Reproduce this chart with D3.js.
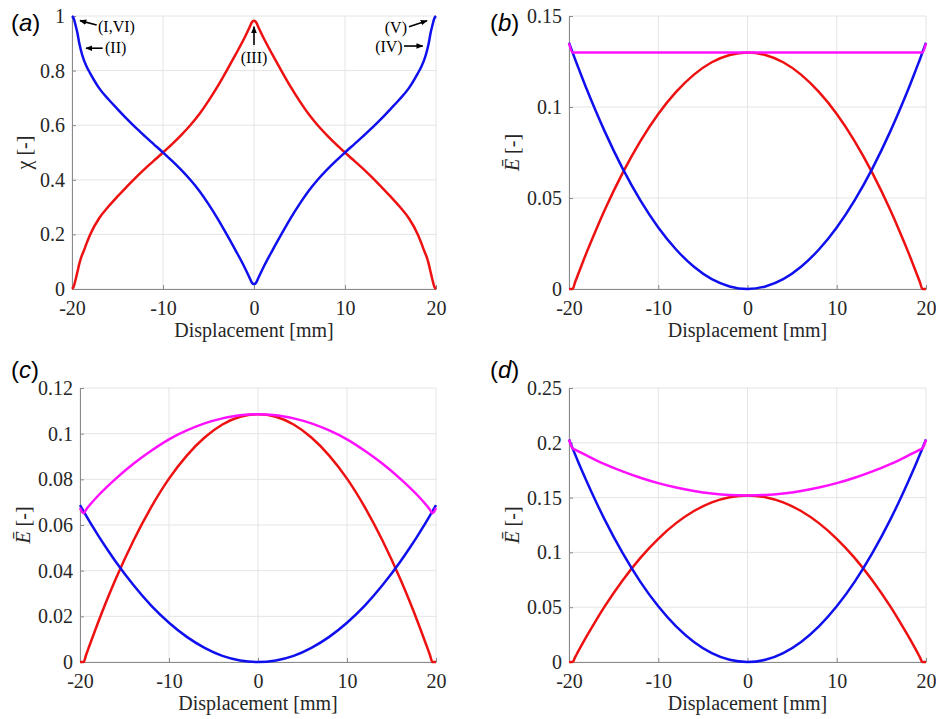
<!DOCTYPE html>
<html>
<head>
<meta charset="utf-8">
<script src="https://cdn.jsdelivr.net/npm/d3@7"></script>
<style>
  body { margin: 0; background: #fff; }
  text { font-family: "Liberation Serif", "Times New Roman", serif; }
</style>
</head>
<body>
<svg id="fig" width="936" height="719"></svg>
<script>
// ---- data ----
// (a) volume fraction chi vs displacement
let xA = [-20,-19.8,-19.6,-19.4,-19.2,-19,-18.7,-18.4,-18,-17,-16,-15,-14,-13,-12,-11,-10,-9,-8,-7,-6,-5,-4,-3,-2,-1,-0.5,-0.25,0,
          0.25,0.5,1,2,3,4,5,6,7,8,9,10,11,12,13,14,15,16,17,18,18.4,18.7,19,19.2,19.4,19.6,19.8,20];
let chiBlue = [1.0,0.99,0.965,0.937,0.9,0.872,0.839,0.815,0.79,0.735,0.695,0.659,0.624,0.591,0.56,0.53,0.5,0.469,0.436,0.4,0.359,0.311,0.258,0.2,0.14,0.077,0.042,0.024,0.018,
               0.024,0.042,0.077,0.14,0.2,0.258,0.311,0.359,0.4,0.436,0.469,0.5,0.53,0.56,0.591,0.624,0.659,0.695,0.735,0.79,0.815,0.839,0.872,0.9,0.937,0.965,0.99,1.0];
let chiRed = [0,0.01,0.035,0.063,0.092,0.115,0.14,0.167,0.2,0.26,0.302,0.339,0.374,0.408,0.44,0.47,0.5,0.531,0.564,0.6,0.641,0.689,0.742,0.8,0.86,0.923,0.958,0.976,0.983,
              0.976,0.958,0.923,0.86,0.8,0.742,0.689,0.641,0.6,0.564,0.531,0.5,0.47,0.44,0.408,0.374,0.339,0.302,0.26,0.2,0.167,0.14,0.115,0.092,0.063,0.035,0.01,0];

// (b)-(d) energies, same displacement grid
let xE = [-20,-19.6,-19.3,-19,-18,-17,-16,-14,-12,-10,-8,-6,-4,-2,0,2,4,6,8,10,12,14,16,17,18,19,19.3,19.6,20];

let blueB = [0.1353,0.13,0.126,0.1222,0.1096,0.0978,0.0866,0.0663,0.0487,0.0338,0.0217,0.0122,0.0054,0.0014,0,
             0.0014,0.0054,0.0122,0.0217,0.0338,0.0487,0.0663,0.0866,0.0978,0.1096,0.1222,0.126,0.13,0.1353];
let redB = [0,0,0.004,0.0078,0.0204,0.0322,0.0434,0.0637,0.0813,0.0962,0.1083,0.1178,0.1246,0.1286,0.13,
            0.1286,0.1246,0.1178,0.1083,0.0962,0.0813,0.0637,0.0434,0.0322,0.0204,0.0078,0.004,0,0];
let magB = [0.135,0.13,0.13,0.13,0.13,0.13,0.13,0.13,0.13,0.13,0.13,0.13,0.13,0.13,0.13,
            0.13,0.13,0.13,0.13,0.13,0.13,0.13,0.13,0.13,0.13,0.13,0.13,0.13,0.135];

let blueC = [0.0687,0.066,0.064,0.062,0.0557,0.0497,0.044,0.0337,0.0247,0.0172,0.011,0.0062,0.0027,0.0007,0,
             0.0007,0.0027,0.0062,0.011,0.0172,0.0247,0.0337,0.044,0.0497,0.0557,0.062,0.064,0.066,0.0687];
let redC = [0,0,0.0033,0.0065,0.017,0.0269,0.0362,0.0531,0.0678,0.0803,0.0904,0.0983,0.104,0.1074,0.1085,
            0.1074,0.104,0.0983,0.0904,0.0803,0.0678,0.0531,0.0362,0.0269,0.017,0.0065,0.0033,0,0];
let magC = [0.0675,0.0652,0.0668,0.0683,0.0727,0.0766,0.0802,0.0868,0.0925,0.0975,0.1014,0.1045,0.1067,0.1081,0.1085,
            0.1081,0.1067,0.1045,0.1014,0.0975,0.0925,0.0868,0.0802,0.0766,0.0727,0.0683,0.0668,0.0652,0.0675];

let blueD = [0.203,0.195,0.1891,0.1832,0.1645,0.1467,0.1299,0.0995,0.0731,0.0508,0.0325,0.0183,0.0081,0.002,0,
             0.002,0.0081,0.0183,0.0325,0.0508,0.0731,0.0995,0.1299,0.1467,0.1645,0.1832,0.1891,0.195,0.203];
let redD = [0,0,0.0046,0.0092,0.0238,0.0376,0.0507,0.0744,0.095,0.1124,0.1267,0.1378,0.1457,0.1504,0.152,
            0.1504,0.1457,0.1378,0.1267,0.1124,0.095,0.0744,0.0507,0.0376,0.0238,0.0092,0.0046,0,0];
let magD = [0.203,0.195,0.1937,0.1924,0.1883,0.1843,0.1806,0.1739,0.1681,0.1632,0.1592,0.1561,0.1538,0.1524,0.152,
            0.1524,0.1538,0.1561,0.1592,0.1632,0.1681,0.1739,0.1806,0.1843,0.1883,0.1924,0.1937,0.195,0.203];

let xTicks = [-20,-10,0,10,20];
let yTicksA = [0,0.2,0.4,0.6,0.8,1];
let yTicksB = [0,0.05,0.1,0.15];
let yTicksC = [0,0.02,0.04,0.06,0.08,0.1,0.12];
let yTicksD = [0,0.05,0.1,0.15,0.2,0.25];

// annotations on (a): label, text pos, anchor, arrow tail, arrow head (data coords)
let notesA = [
  {t:"(I,VI)", tx:-17.14, ty:0.9425, anchor:"start", x1:-17.29, y1:0.967, x2:-19.12, y2:0.983},
  {t:"(II)",   tx:-16.37, ty:0.864,  anchor:"start", x1:-16.63, y1:0.882, x2:-18.46, y2:0.882},
  {t:"(III)",  tx:0,      ty:0.828,  anchor:"middle",x1:0,      y1:0.894, x2:0,      y2:0.961},
  {t:"(V)",    tx:16.81,  ty:0.938,  anchor:"end",   x1:17.03,  y1:0.961, x2:19.01,  y2:0.983},
  {t:"(IV)",   tx:16.34,  ty:0.869,  anchor:"end",   x1:16.48,  y1:0.89,  x2:18.54,  y2:0.89}
];

const BLUE = "#1010ee", RED = "#ee1111", MAG = "#ff10ff";
const SERIF = "'Liberation Serif', 'Times New Roman', serif";
const svg = d3.select("#fig");

svg.append("defs").append("marker")
  .attr("id","arr").attr("viewBox","0 0 10 10").attr("refX",9).attr("refY",5)
  .attr("markerWidth",7).attr("markerHeight",7).attr("markerUnits","userSpaceOnUse")
  .attr("orient","auto")
  .append("path").attr("d","M0,1 L10,5 L0,9 z").attr("fill","#000");

function panel(p){
  const x = d3.scaleLinear().domain([-20,20]).range([p.left,p.right]);
  const y = d3.scaleLinear().domain([0,p.ymax]).range([p.bottom,p.top]);
  const g = svg.append("g");

  // grid
  g.append("g").selectAll("line").data(xTicks).join("line")
    .attr("x1",d=>x(d)).attr("x2",d=>x(d)).attr("y1",p.top).attr("y2",p.bottom)
    .attr("stroke","#e4e4e4").attr("stroke-width",1);
  g.append("g").selectAll("line").data(p.yTicks).join("line")
    .attr("y1",d=>y(d)).attr("y2",d=>y(d)).attr("x1",p.left).attr("x2",p.right)
    .attr("stroke","#e4e4e4").attr("stroke-width",1);

  // axes (plain hyphen for negatives, like the figure)
  const fmt = d => String(d);
  const xAxis = g.append("g").attr("transform",`translate(0,${p.bottom})`)
    .call(d3.axisBottom(x).tickValues(xTicks).tickSizeInner(-4).tickSizeOuter(0).tickPadding(12).tickFormat(fmt));
  const yAxis = g.append("g").attr("transform",`translate(${p.left},0)`)
    .call(d3.axisLeft(y).tickValues(p.yTicks).tickSizeInner(-4).tickSizeOuter(0).tickPadding(7).tickFormat(fmt));
  [xAxis,yAxis].forEach(a=>{
    a.attr("font-family",SERIF).attr("font-size",20);
    a.selectAll("path,line").attr("stroke","#8a8a8a");
    a.selectAll("text").attr("fill","#262626").style("font-family",SERIF);
  });

  // curves
  const line = d3.line().x(d=>x(d[0])).y(d=>y(d[1])).curve(d3.curveMonotoneX);
  p.series.forEach(s=>{
    g.append("path").datum(s.x.map((v,i)=>[v,s.y[i]]))
      .attr("d",line).attr("fill","none").attr("stroke",s.color)
      .attr("stroke-width",2.5).attr("stroke-linejoin","round");
  });

  // x label
  g.append("text").attr("x",(p.left+p.right)/2).attr("y",p.bottom+48)
    .attr("text-anchor","middle").attr("font-size",20).attr("fill","#262626")
    .style("font-family",SERIF)
    .text("Displacement [mm]");

  // y label
  const yl = g.append("text")
    .attr("transform",`translate(${p.ylx},${(p.top+p.bottom)/2}) rotate(-90)`)
    .attr("text-anchor","middle").attr("font-size",20).attr("fill","#262626")
    .style("font-family",SERIF);
  if (p.chi) {
    yl.append("tspan").text("\u03c7 [-]");
  } else {
    yl.append("tspan").attr("font-style","italic").text("\u0112");
    yl.append("tspan").text(" [-]");
  }

  // panel tag
  const tag = g.append("text").attr("x",p.tagx).attr("y",p.tagy)
    .attr("font-size",24).attr("fill","#000")
    .style("font-family","'Liberation Sans', Arial, sans-serif");
  tag.append("tspan").text("(");
  tag.append("tspan").attr("font-style","italic").text(p.tag);
  tag.append("tspan").text(")");

  return {x,y,g};
}

const pa = panel({left:72,right:436,top:16,bottom:289,ymax:1,yTicks:yTicksA,ylx:31,chi:true,tag:"a",tagx:11,tagy:31,
  series:[{x:xA,y:chiRed,color:RED},{x:xA,y:chiBlue,color:BLUE}]});
panel({left:569,right:926,top:16,bottom:289,ymax:0.15,yTicks:yTicksB,ylx:519,tag:"b",tagx:490,tagy:31,
  series:[{x:xE,y:redB,color:RED},{x:xE,y:blueB,color:BLUE},{x:xE,y:magB,color:MAG}]});
panel({left:80,right:436,top:388,bottom:662,ymax:0.12,yTicks:yTicksC,ylx:30,tag:"c",tagx:11,tagy:378,
  series:[{x:xE,y:redC,color:RED},{x:xE,y:blueC,color:BLUE},{x:xE,y:magC,color:MAG}]});
panel({left:569,right:926,top:388,bottom:662,ymax:0.25,yTicks:yTicksD,ylx:519,tag:"d",tagx:490,tagy:378,
  series:[{x:xE,y:redD,color:RED},{x:xE,y:blueD,color:BLUE},{x:xE,y:magD,color:MAG}]});

// annotations on panel (a)
const ann = pa.g.append("g");
ann.selectAll("line").data(notesA).join("line")
  .attr("x1",d=>pa.x(d.x1)).attr("y1",d=>pa.y(d.y1))
  .attr("x2",d=>pa.x(d.x2)).attr("y2",d=>pa.y(d.y2))
  .attr("stroke","#000").attr("stroke-width",1.6).attr("marker-end","url(#arr)");
ann.selectAll("text").data(notesA).join("text")
  .attr("x",d=>pa.x(d.tx)).attr("y",d=>pa.y(d.ty))
  .attr("text-anchor",d=>d.anchor).attr("font-size",16).attr("fill","#000")
  .style("font-family",SERIF)
  .text(d=>d.t);
</script>
</body>
</html>
